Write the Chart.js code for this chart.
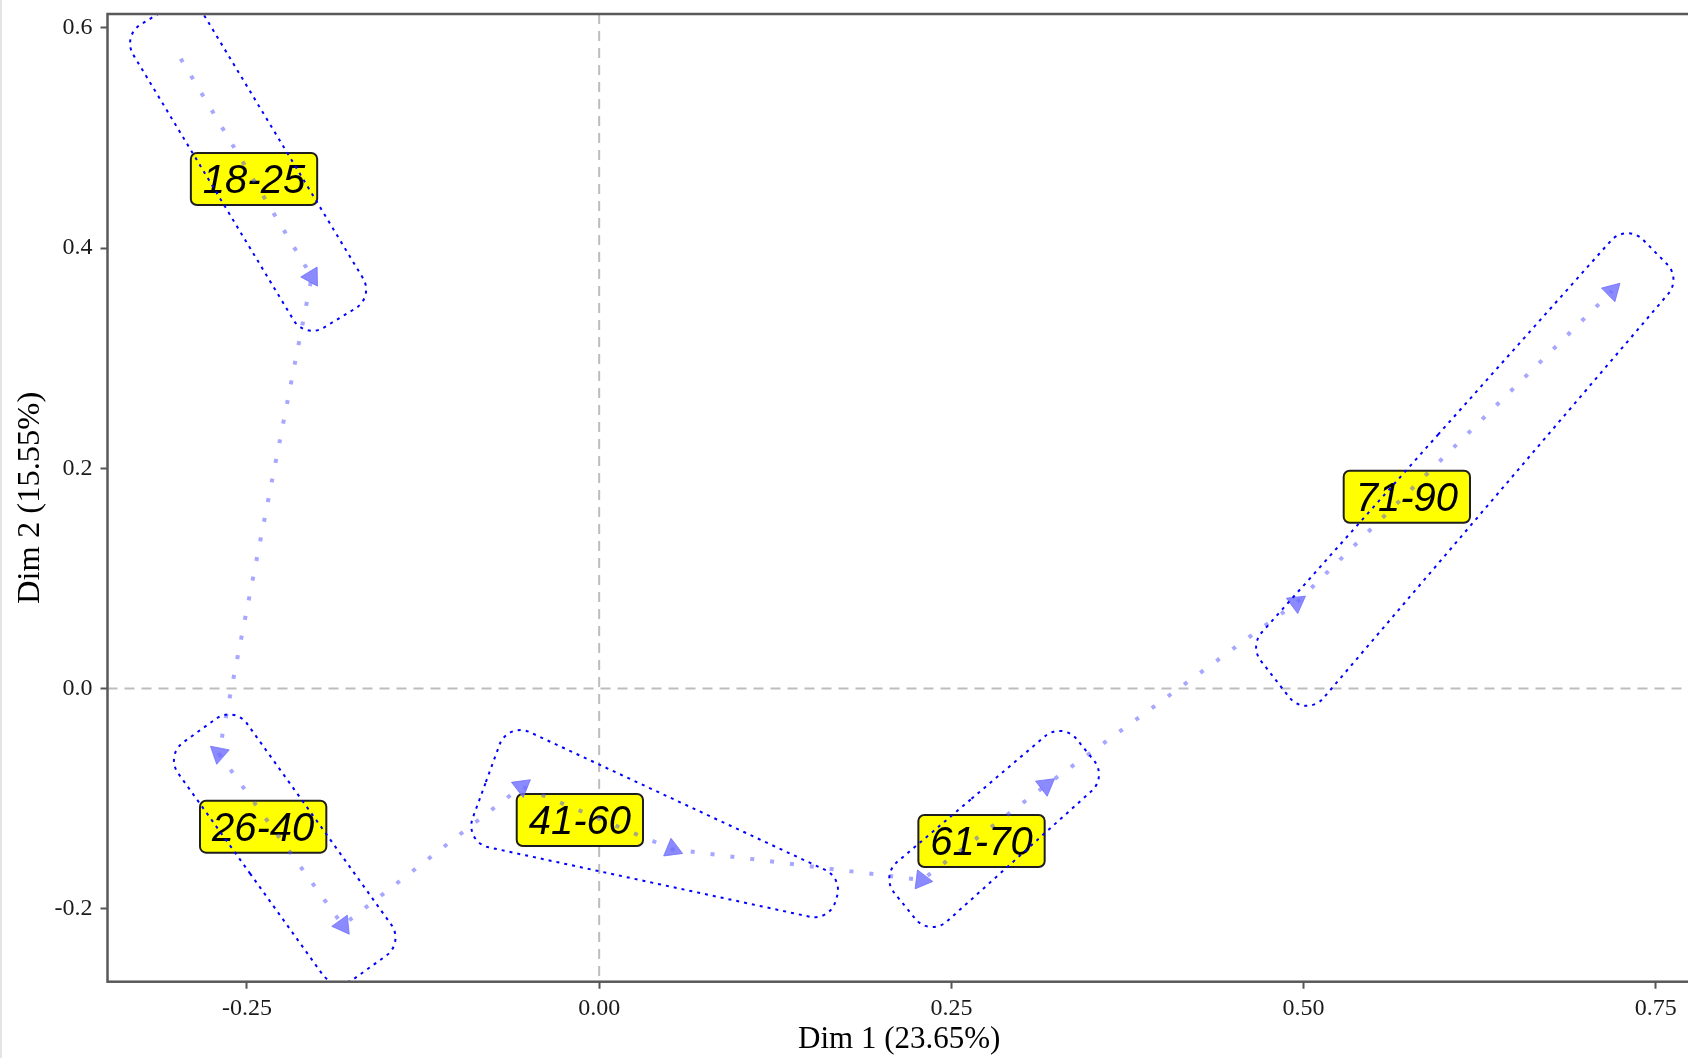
<!DOCTYPE html>
<html>
<head>
<meta charset="utf-8">
<title>Dim 1 / Dim 2</title>
<script src="https://cdn.jsdelivr.net/npm/chart.js@4.4.1/dist/chart.umd.min.js"></script>
<style>
  html, body { margin: 0; padding: 0; background: #fff; overflow: hidden; }
  #wrap { width: 1703px; height: 1058px; }
</style>
</head>
<body>
<div id="wrap"><canvas id="pca" width="1703" height="1058"></canvas></div>
<script>
// age groups, two coordinates each, joined in order along one path
const groups = ["18-25", "26-40", "41-60", "61-70", "71-90"];
const dim1 = [-0.297, -0.204, -0.270, -0.182, -0.055, 0.052, 0.229, 0.317, 0.495, 0.719];
const dim2 = [0.572, 0.374, -0.059, -0.215, -0.089, -0.146, -0.174, -0.088, 0.078, 0.361];

// where each group's tag sits
const labelX = [-0.245, -0.2385, -0.0137, 0.2714, 0.5733];
const labelY = [0.4628, -0.1255, -0.1194, -0.1385, 0.1742];

// outline corners of each group, drawn with rounded corners
const hullX = [
  [-0.3388, -0.2896, -0.1596, -0.2088],
  [-0.3080, -0.2591, -0.1384, -0.1873],
  [-0.0648, 0.1727, 0.1636, -0.0960],
  [0.3288, 0.3606, 0.2347, 0.1998],
  [0.7293, 0.7681, 0.5016, 0.4616]
];
const hullY = [
  [0.5927, 0.6309, 0.3556, 0.3174],
  [-0.0607, -0.0156, -0.2309, -0.2759],
  [-0.0304, -0.1721, -0.2112, -0.1394],
  [-0.0300, -0.0803, -0.2256, -0.1703],
  [0.4227, 0.3723, -0.0274, 0.0384]
];

const xTicks = [-0.25, 0, 0.25, 0.5, 0.75];
const yTicks = [-0.2, 0, 0.2, 0.4, 0.6];

const points = dim1.map((x, i) => ({ x: x, y: dim2[i] }));

function roundedPoly(ctx, pts, r) {
  const n = pts.length;
  const sx = (pts[n - 1].x + pts[0].x) / 2, sy = (pts[n - 1].y + pts[0].y) / 2;
  ctx.moveTo(sx, sy);
  for (let i = 0; i < n; i++) {
    const p = pts[i], q = pts[(i + 1) % n];
    ctx.arcTo(p.x, p.y, q.x, q.y, r);
  }
  ctx.closePath();
}

const decorations = {
  id: 'decorations',
  beforeDraw(chart) {
    const ctx = chart.ctx;
    ctx.save();
    ctx.fillStyle = '#fff';
    ctx.fillRect(0, 0, chart.width, chart.height);
    ctx.strokeStyle = '#e4e4e4';
    ctx.lineWidth = 2;
    ctx.beginPath();
    ctx.moveTo(1, 0);
    ctx.lineTo(1, chart.height);
    ctx.stroke();
    ctx.restore();
  },
  beforeDatasetsDraw(chart) {
    const { ctx, chartArea: a, scales: { x, y } } = chart;
    ctx.save();
    ctx.beginPath();
    ctx.rect(a.left, a.top, a.right - a.left, a.bottom - a.top);
    ctx.clip();
    // dashed reference lines through the origin
    ctx.strokeStyle = '#bdbdbd';
    ctx.lineWidth = 2;
    ctx.setLineDash([10, 7]);
    const x0 = x.getPixelForValue(0), y0 = y.getPixelForValue(0);
    ctx.beginPath();
    ctx.moveTo(x0, a.top); ctx.lineTo(x0, a.bottom);
    ctx.moveTo(a.left, y0); ctx.lineTo(a.right, y0);
    ctx.stroke();
    ctx.setLineDash([]);

    // group tags
    ctx.font = 'italic 40px "Liberation Sans", Arial, sans-serif';
    groups.forEach((g, i) => {
      const cx = x.getPixelForValue(labelX[i]);
      const cy = y.getPixelForValue(labelY[i]);
      const w = ctx.measureText(g).width + 24, h = 52;
      ctx.beginPath();
      ctx.roundRect(cx - w / 2, cy - h / 2, w, h, 6);
      ctx.fillStyle = '#ffff00';
      ctx.fill();
      ctx.lineWidth = 2;
      ctx.strokeStyle = '#1e1e1e';
      ctx.stroke();
      ctx.fillStyle = '#000';
      ctx.textAlign = 'center';
      ctx.textBaseline = 'alphabetic';
      ctx.fillText(g, cx, cy + 14.5);
    });
    ctx.restore();
  },
  afterDatasetsDraw(chart) {
    const { ctx, chartArea: a, scales: { x, y } } = chart;
    ctx.save();
    ctx.beginPath();
    ctx.rect(a.left, a.top, a.right - a.left, a.bottom - a.top);
    ctx.clip();
    ctx.strokeStyle = '#0000ff';
    ctx.lineWidth = 2;
    ctx.setLineDash([3, 5]);
    hullX.forEach((hx, g) => {
      const pts = hx.map((v, k) => ({ x: x.getPixelForValue(v), y: y.getPixelForValue(hullY[g][k]) }));
      ctx.beginPath();
      roundedPoly(ctx, pts, 22);
      ctx.stroke();
    });
    ctx.restore();

    // panel frame
    ctx.save();
    ctx.strokeStyle = '#595959';
    ctx.lineWidth = 2.5;
    ctx.strokeRect(a.left, a.top, a.right - a.left, a.bottom - a.top);
    ctx.restore();
  }
};

// arrow heads point along the path
function headAngle(ctx) {
  const i = ctx.dataIndex;
  if (!i) return 0;
  const sx = ctx.chart.scales.x, sy = ctx.chart.scales.y;
  const dx = sx.getPixelForValue(dim1[i]) - sx.getPixelForValue(dim1[i - 1]);
  const dy = sy.getPixelForValue(dim2[i]) - sy.getPixelForValue(dim2[i - 1]);
  return Math.atan2(dy, dx) * 180 / Math.PI + 90;
}

const serif = '"Liberation Serif", "Times New Roman", serif';

new Chart(document.getElementById('pca'), {
  type: 'scatter',
  data: {
    datasets: [{
      data: points,
      showLine: true,
      borderColor: 'rgba(80, 80, 255, 0.5)',
      borderWidth: 4,
      borderDash: [4, 16],
      pointStyle: 'triangle',
      pointRadius: ctx => ctx.dataIndex === 0 ? 0 : 11,
      pointRotation: headAngle,
      pointBackgroundColor: 'rgba(110, 110, 255, 0.8)',
      pointBorderColor: 'rgba(110, 110, 255, 0.8)',
      pointBorderWidth: 1
    }]
  },
  options: {
    responsive: false,
    animation: false,
    events: [],
    layout: { padding: { top: 14, right: 4, left: 0, bottom: 0 } },
    plugins: { legend: { display: false }, tooltip: { enabled: false } },
    scales: {
      x: {
        type: 'linear',
        min: -0.349,
        max: 0.775,
        afterBuildTicks: s => { s.ticks = xTicks.map(v => ({ value: v })); },
        afterFit: s => { s.height = 76.3; s.paddingLeft = 0; s.paddingRight = 0; },
        grid: { color: 'rgba(0,0,0,0)', drawTicks: true, tickLength: 7, tickColor: '#555', tickWidth: 2 },
        border: { display: false },
        ticks: {
          callback: v => v.toFixed(2),
          font: { family: serif, size: 24 },
          color: '#1a1a1a',
          padding: 6,
          maxRotation: 0,
          autoSkip: false
        },
        title: {
          display: true,
          text: 'Dim 1 (23.65%)',
          font: { family: serif, size: 31 },
          color: '#000',
          padding: { top: 0, bottom: 0 }
        }
      },
      y: {
        type: 'linear',
        min: -0.2663,
        max: 0.6126,
        afterBuildTicks: s => { s.ticks = yTicks.map(v => ({ value: v })); },
        afterFit: s => { s.width = 107.5; s.paddingTop = 0; s.paddingBottom = 0; },
        grid: { color: 'rgba(0,0,0,0)', drawTicks: true, tickLength: 7, tickColor: '#555', tickWidth: 2 },
        border: { display: false },
        ticks: {
          callback: v => v.toFixed(1),
          font: { family: serif, size: 24 },
          color: '#1a1a1a',
          padding: 8,
          autoSkip: false
        },
        title: {
          display: true,
          text: 'Dim 2 (15.55%)',
          font: { family: serif, size: 32.5 },
          color: '#000',
          padding: { top: 11, bottom: 0 }
        }
      }
    }
  },
  plugins: [decorations]
});
</script>
</body>
</html>
